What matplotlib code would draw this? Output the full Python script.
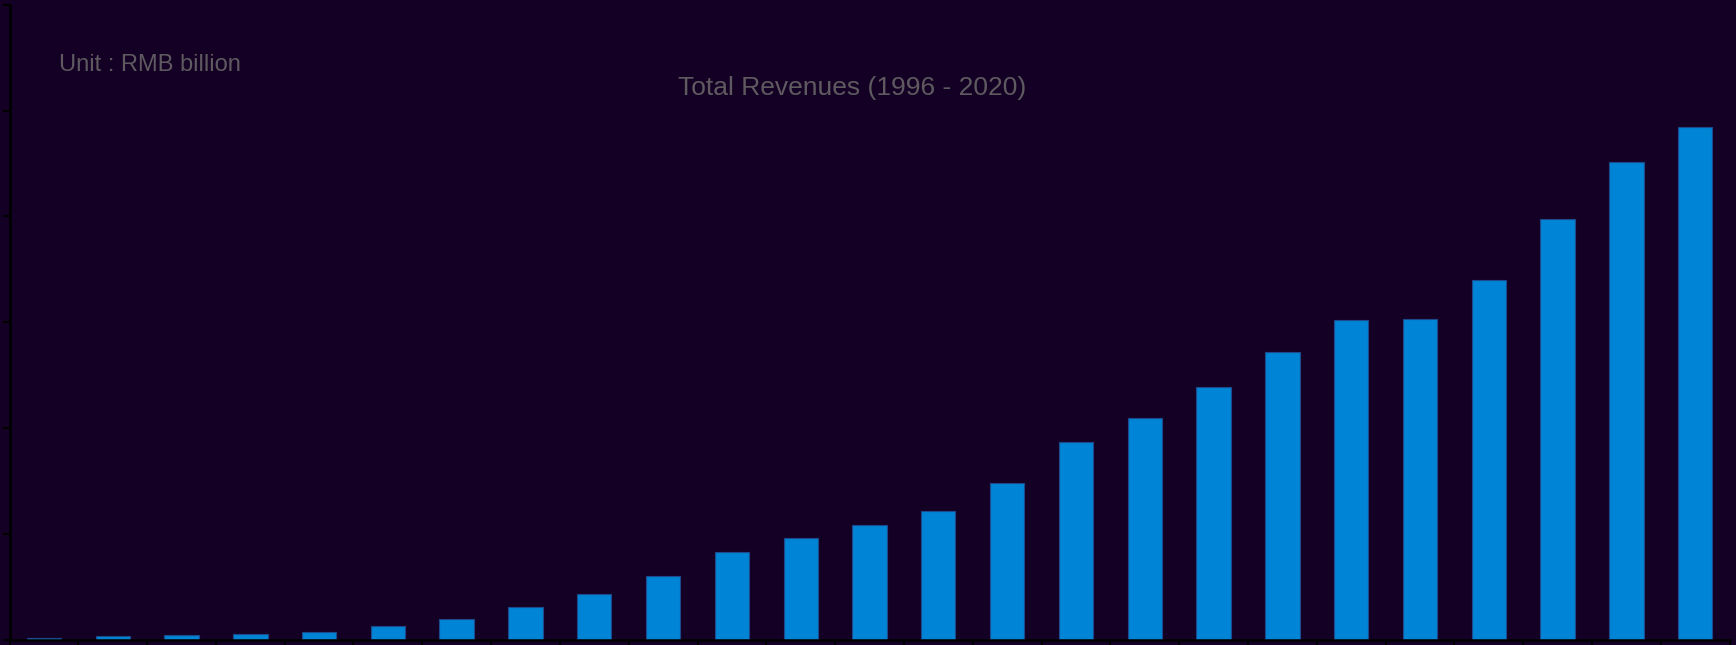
import numpy as np
import matplotlib
matplotlib.use("Agg")
import matplotlib.pyplot as plt

# total revenues, RMB billion
years = list(range(1996, 2021))
revenues = [1.4, 3.3, 4.3, 5.2, 7.1, 12.8, 19.4, 30.7, 43.0, 60.3,
            82.4, 96.2, 107.9, 121.2, 147.6, 186.7, 209.4, 238.7, 271.7, 301.7,
            302.9, 339.8, 397.4, 451.0, 484.4]
y_ticks = [0, 100, 200, 300, 400, 500, 600]

bg = "#140024"
bar_color = "#0084d5"
text_color = "#5e5a60"

W, H = 1736, 645
fig = plt.figure(figsize=(W / 100, H / 100), dpi=100, facecolor=bg)
ax = fig.add_axes([9.5 / W, 5.5 / H, 1720 / W, 634.8 / H])
ax.set_facecolor(bg)

x = np.arange(len(years))
ax.bar(x, revenues, width=0.5, color=bar_color, edgecolor="#1c4a8c", linewidth=0.8)

ax.set_xlim(-0.5, len(years) - 0.5)
ax.set_ylim(0, 600)
ax.set_xticks(np.arange(len(years) + 1) - 0.5)
ax.set_yticks(y_ticks)
ax.tick_params(axis="both", colors="black", length=5, width=1.5,
               labelleft=False, labelbottom=False)
for side in ["top", "right"]:
    ax.spines[side].set_visible(False)
for side in ["left", "bottom"]:
    ax.spines[side].set_color("black")
    ax.spines[side].set_linewidth(1.8)

fig.text(59 / W, 1 - 71 / H, "Unit : RMB billion", color=text_color,
         fontsize=17, family="Liberation Sans", ha="left", va="baseline")
fig.text(852 / W, 1 - 95.5 / H, "Total Revenues (1996 - 2020)", color=text_color,
         fontsize=19, family="Liberation Sans", ha="center", va="baseline")

fig.savefig("out.png", dpi=100, facecolor=bg)
